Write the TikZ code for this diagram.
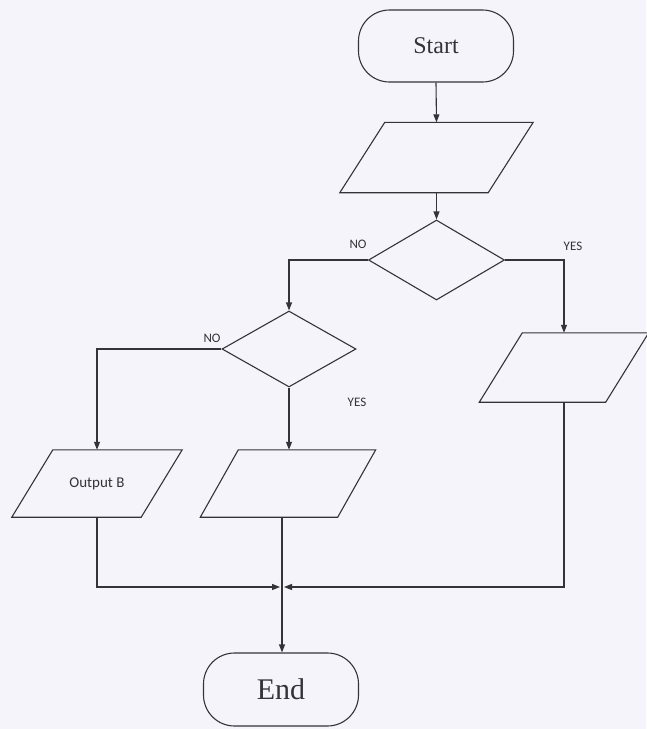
\documentclass[tikz,border=0pt]{standalone}
\usepackage{fontspec}
\setmainfont{Liberation Serif}
\newfontfamily\labelfont{Carlito}
\usetikzlibrary{shapes.geometric,arrows.meta}

\definecolor{ink}{RGB}{52,52,56}
\definecolor{paper}{RGB}{244,244,250}

% outline of an input/output box around an (undrawn) rectangle node:
% #1 = node name, #2 = horizontal slant of the sides
\newcommand\drawio[2]{%
  \draw[link, line join=miter]
    ([xshift=-#2/2]#1.south west) -- ([xshift=#2/2]#1.north west)
    -- ([xshift=#2/2]#1.north east) -- ([xshift=-#2/2]#1.south east) -- cycle;}

\begin{document}
\begin{tikzpicture}[x=1pt,y=-1pt,
  terminal/.style={draw=ink, line width=1.1pt, rounded corners=31pt,
    minimum width=155pt, inner sep=0pt, text=ink},
  iobox/.style={rectangle, inner sep=0pt, text=ink},
  decision/.style={draw=ink, line width=1.1pt, diamond, inner sep=0pt},
  arr/.style={draw=ink, line width=1.1pt, -{Triangle[length=8pt,width=6pt]}},
  link/.style={draw=ink, line width=1.1pt},
  lab/.style={font=\labelfont\fontsize{13}{13}\selectfont, text=ink}]

  % page
  \fill[paper] (0,0) rectangle (646,729);
  \useasboundingbox (0,0) rectangle (646,729);

  % terminals
  \node[terminal, minimum height=72pt, font=\fontsize{24}{24}\selectfont]
    (start) at (436,46) {Start};
  \node[terminal, minimum height=73pt, font=\fontsize{30}{30}\selectfont]
    (end) at (281,689.5) {End};

  % input / output boxes
  \node[iobox, minimum width=148pt, minimum height=70pt] (p1) at (436.5,157.5) {};
  \node[iobox, minimum width=126pt, minimum height=69pt] (pr) at (564,367.5) {};
  \node[iobox, minimum width=129pt, minimum height=67pt,
        font=\labelfont\fontsize{15}{15}\selectfont] (pb) at (97,483.5) {Output B};
  \node[iobox, minimum width=137pt, minimum height=67pt] (pm) at (288,483.5) {};
  \drawio{p1}{45}
  \drawio{pr}{43}
  \drawio{pb}{41}
  \drawio{pm}{38}

  % decisions
  \node[decision, minimum width=136pt, minimum height=80pt] (d1) at (436.5,260) {};
  \node[decision, minimum width=134pt, minimum height=76pt] (d2) at (289,349) {};

  % branch labels
  \node[lab] (no1)  at (358,244) {NO};
  \node[lab] (yes1) at (573,246) {YES};
  \node[lab] (no2)  at (212,338) {NO};
  \node[lab] (yes2) at (357,402) {YES};

  % join point above the end terminal
  \coordinate (merge) at (282,587);

  % connectors
  \draw[arr] (start.south) -- (p1.north);
  \draw[arr] (p1.south) -- (d1.north);
  \draw[arr] (d1.west) -| (d2.north);
  \draw[arr] (d1.east) -| (pr.north);
  \draw[arr] (d2.west) -| (pb.north);
  \draw[arr] (d2.south) -- (d2.south |- pm.north);
  \draw[arr] (pb.south) |- ([xshift=-2pt]merge);
  \draw[arr] (pr.south) |- ([xshift=2pt]merge);
  \draw[arr] (merge |- pm.south) -- (merge |- end.north);
\end{tikzpicture}
\end{document}
